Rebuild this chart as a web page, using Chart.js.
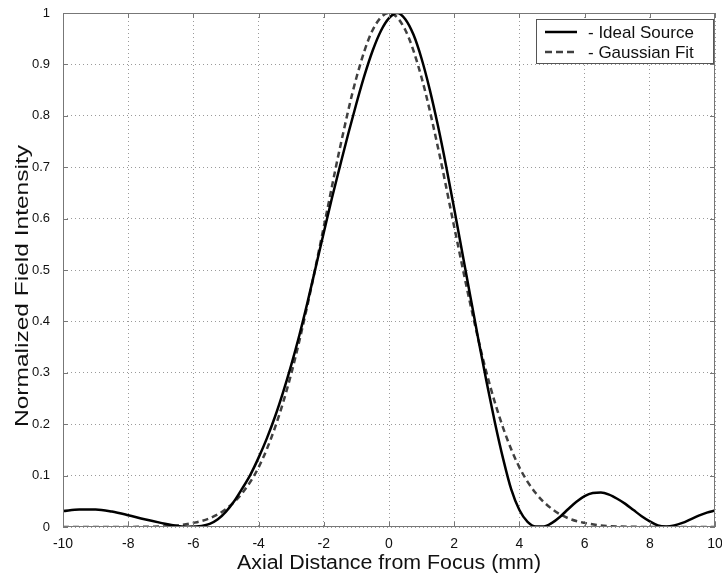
<!DOCTYPE html>
<html>
<head>
<meta charset="utf-8">
<script src="https://cdn.jsdelivr.net/npm/chart.js@4"></script>
<style>
  html, body { margin: 0; padding: 0; background: #fff; }
  #wrap { width: 722px; height: 577px; }
</style>
</head>
<body>
<div id="wrap"><canvas id="chart" width="722" height="577"></canvas></div>
<script>
// axial position (mm) and normalized intensity
const idealX = [-10, -9.5, -9, -8.5, -8, -7.5, -7, -6.5, -6.25, -6, -5.75, -5.5, -5.25, -5, -4.75, -4.5, -4.25, -4, -3.75, -3.5, -3.25, -3, -2.75, -2.5, -2.25, -2, -1.75, -1.5, -1.25, -1, -0.75, -0.5, -0.25, 0, 0.25, 0.5, 0.75, 1, 1.25, 1.5, 1.75, 2, 2.25, 2.5, 2.75, 3, 3.25, 3.5, 3.75, 4, 4.25, 4.5, 4.75, 5, 5.25, 5.5, 5.75, 6, 6.25, 6.5, 6.75, 7, 7.25, 7.5, 7.75, 8, 8.25, 8.5, 8.75, 9, 9.25, 9.5, 9.75, 10];
const idealY = [0.031, 0.034, 0.034, 0.030, 0.023, 0.015, 0.008, 0.002, 0.0005, 0.001, 0.002, 0.006, 0.015, 0.030, 0.050, 0.075, 0.102, 0.135, 0.172, 0.214, 0.262, 0.315, 0.373, 0.437, 0.505, 0.573, 0.640, 0.703, 0.765, 0.824, 0.879, 0.927, 0.965, 0.990, 1.000, 0.988, 0.958, 0.911, 0.851, 0.781, 0.703, 0.619, 0.533, 0.447, 0.362, 0.280, 0.203, 0.133, 0.073, 0.033, 0.010, 0.001, 0.001, 0.008, 0.020, 0.035, 0.049, 0.060, 0.066, 0.067, 0.063, 0.055, 0.045, 0.033, 0.021, 0.011, 0.003, 0.001, 0.003, 0.008, 0.015, 0.022, 0.028, 0.032];

const gaussX = [-10, -9, -8, -7.5, -7, -6.5, -6, -5.5, -5, -4.5, -4, -3.5, -3, -2.5, -2, -1.5, -1, -0.5, 0, 0.5, 1, 1.5, 2, 2.5, 3, 3.5, 4, 4.5, 5, 5.5, 6, 6.5, 7, 7.5, 8, 9, 10];
const gaussY = [0, 0, 0, 0.0005, 0.001, 0.003, 0.008, 0.017, 0.035, 0.066, 0.116, 0.193, 0.298, 0.432, 0.584, 0.739, 0.874, 0.967, 1.0, 0.967, 0.874, 0.739, 0.584, 0.432, 0.298, 0.193, 0.116, 0.066, 0.035, 0.017, 0.008, 0.003, 0.001, 0.0005, 0, 0, 0];

const seriesNames = ['- Ideal Source', '- Gaussian Fit'];
const xTitle = 'Axial Distance from Focus (mm)';
const yTitle = 'Normalized Field Intensity';

const FONT = "'Liberation Sans', Arial, Helvetica, sans-serif";

function toPoints(xs, ys) {
    return xs.map((x, i) => ({ x: x, y: ys[i] }));
}

// box around the plot with inward ticks, matlab style
const framePlugin = {
    id: 'frame',
    afterDatasetsDraw(chart) {
        const { ctx, chartArea: a, scales } = chart;
        ctx.save();
        ctx.strokeStyle = '#777';
        ctx.lineWidth = 1;
        ctx.strokeRect(a.left + 0.5, a.top + 0.5, a.right - a.left - 1, a.bottom - a.top - 1);
        ctx.beginPath();
        scales.x.ticks.forEach(t => {
            const px = Math.round(scales.x.getPixelForValue(t.value)) + 0.5;
            ctx.moveTo(px, a.top); ctx.lineTo(px, a.top + 5);
            ctx.moveTo(px, a.bottom); ctx.lineTo(px, a.bottom - 5);
        });
        scales.y.ticks.forEach(t => {
            const py = Math.round(scales.y.getPixelForValue(t.value)) + 0.5;
            ctx.moveTo(a.left, py); ctx.lineTo(a.left + 5, py);
            ctx.moveTo(a.right, py); ctx.lineTo(a.right - 5, py);
        });
        ctx.stroke();
        ctx.restore();
    }
};

// axis titles, stretched a little to match the original's lettering
function drawStretched(ctx, text, length) {
    const w = ctx.measureText(text).width;
    ctx.scale(length / w, 1);
    ctx.fillText(text, 0, 0);
}

const titlesPlugin = {
    id: 'titles',
    afterDraw(chart) {
        const { ctx, chartArea: a } = chart;
        ctx.save();
        ctx.fillStyle = '#111';
        ctx.textAlign = 'center';
        ctx.textBaseline = 'alphabetic';
        ctx.font = '20px ' + FONT;
        ctx.translate((a.left + a.right) / 2, 569);
        drawStretched(ctx, xTitle, 304);
        ctx.restore();

        ctx.save();
        ctx.fillStyle = '#111';
        ctx.textAlign = 'center';
        ctx.textBaseline = 'alphabetic';
        ctx.font = '19px ' + FONT;
        ctx.translate(28, 286);
        ctx.rotate(-Math.PI / 2);
        drawStretched(ctx, yTitle, 282);
        ctx.restore();
    }
};

// legend box drawn inside the top right corner
const legendBoxPlugin = {
    id: 'legendBox',
    afterDraw(chart) {
        const { ctx, chartArea: a } = chart;
        const w = 177, h = 44;
        const x0 = a.right - w - 2, y0 = a.top + 6;
        ctx.save();
        ctx.fillStyle = '#fff';
        ctx.fillRect(x0, y0, w, h);
        ctx.strokeStyle = '#555';
        ctx.lineWidth = 1;
        ctx.strokeRect(x0 + 0.5, y0 + 0.5, w, h);
        chart.data.datasets.forEach((ds, i) => {
            const cy = y0 + 13 + i * 20;
            ctx.strokeStyle = ds.borderColor;
            ctx.lineWidth = ds.borderWidth;
            ctx.setLineDash(ds.borderDash ? [7, 4] : []);
            ctx.beginPath();
            ctx.moveTo(x0 + 9, cy);
            ctx.lineTo(x0 + 41, cy);
            ctx.stroke();
            ctx.setLineDash([]);
            ctx.fillStyle = '#111';
            ctx.font = '17px ' + FONT;
            ctx.textBaseline = 'middle';
            ctx.fillText(ds.label, x0 + 52, cy + 1);
        });
        ctx.restore();
    }
};

function fmtY(v) {
    return String(Number(v.toFixed(1)));
}

// keep the plot box fixed: no extra room for overhanging tick labels
function pinScale(scale, size) {
    if (scale.isHorizontal()) scale.height = size;
    else scale.width = size;
    scale.paddingTop = 0;
    scale.paddingBottom = 0;
    scale.paddingLeft = 0;
    scale.paddingRight = 0;
}

new Chart(document.getElementById('chart'), {
    type: 'line',
    data: {
        datasets: [
            {
                label: seriesNames[0],
                data: toPoints(idealX, idealY),
                borderColor: '#000',
                borderWidth: 2.5,
                pointRadius: 0,
                cubicInterpolationMode: 'monotone',
                fill: false
            },
            {
                label: seriesNames[1],
                data: toPoints(gaussX, gaussY),
                borderColor: '#404040',
                borderWidth: 2.5,
                borderDash: [6, 4],
                pointRadius: 0,
                cubicInterpolationMode: 'monotone',
                fill: false
            }
        ]
    },
    options: {
        responsive: false,
        animation: false,
        layout: { padding: { top: 13, right: 7, left: 0, bottom: 0 } },
        plugins: {
            legend: { display: false },
            tooltip: { enabled: false }
        },
        scales: {
            x: {
                type: 'linear',
                min: -10,
                max: 10,
                ticks: { stepSize: 2, color: '#111', font: { family: FONT, size: 14 }, padding: 9, maxRotation: 0 },
                grid: { color: '#9a9a9a', lineWidth: 1, drawTicks: false },
                border: { display: false, dash: [1, 3] },
                afterFit: (scale) => pinScale(scale, 50)
            },
            y: {
                min: 0,
                max: 1,
                ticks: { stepSize: 0.1, color: '#111', font: { family: FONT, size: 13 }, padding: 13, callback: fmtY },
                grid: { color: '#9a9a9a', lineWidth: 1, drawTicks: false },
                border: { display: false, dash: [1, 3] },
                afterFit: (scale) => pinScale(scale, 63)
            }
        }
    },
    plugins: [framePlugin, titlesPlugin, legendBoxPlugin]
});
</script>
</body>
</html>
